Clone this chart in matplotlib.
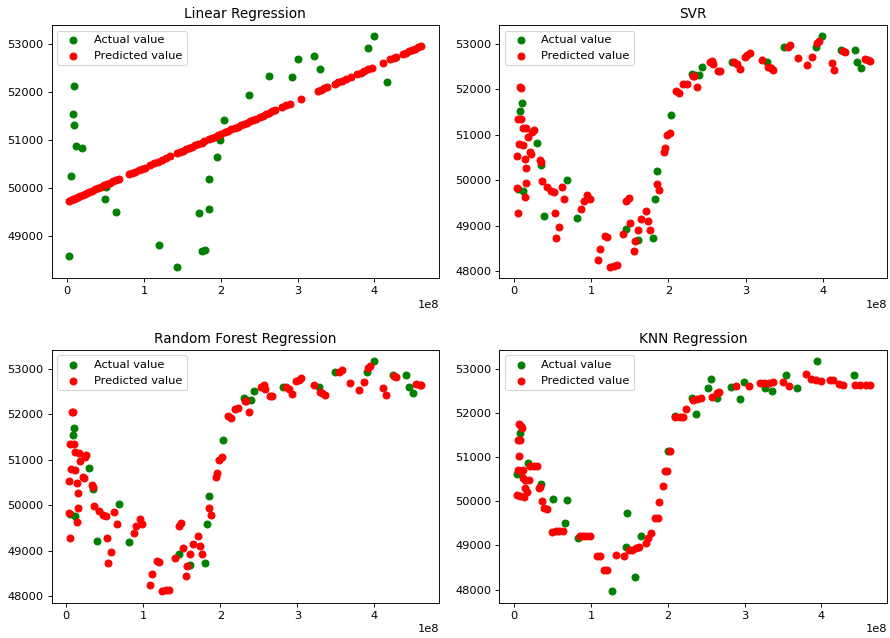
import numpy as np
import matplotlib
matplotlib.use('Agg')
import matplotlib.pyplot as plt
from matplotlib.ticker import MultipleLocator

# x values are in units of 1e8

# --- Linear Regression ---
lr_act_x = [0.027, 0.044, 0.093, 0.080, 0.093, 0.11, 0.19, 0.49, 0.50, 0.64, 1.20, 1.43,
            1.72, 1.75, 1.79, 1.85, 1.85, 1.95, 1.99, 2.04, 2.37, 2.63, 2.93, 3.00,
            3.21, 3.29, 3.92, 3.99, 4.16]
lr_act_y = [48589, 50254, 52122, 51544, 51321, 50889, 50840, 49774, 50020, 49509, 48833, 48373,
            49488, 48707, 48714, 49578, 50185, 50652, 51014, 51418, 51948, 52338, 52310, 52700,
            52749, 52477, 52916, 53160, 52220]
lr_pred_x = [0.03, 0.05, 0.07, 0.09, 0.11, 0.14, 0.17, 0.20, 0.23, 0.26, 0.29, 0.32, 0.36, 0.40,
             0.44, 0.48, 0.52, 0.56, 0.60, 0.64, 0.68,
             0.81, 0.85, 0.89, 0.93, 0.97, 1.01,
             1.08, 1.13, 1.18, 1.24, 1.29, 1.34,
             1.43, 1.47, 1.51, 1.55, 1.59, 1.63, 1.67, 1.71, 1.75, 1.78,
             1.85, 1.88, 1.92, 1.96, 2.00, 2.06, 2.10, 2.14, 2.18, 2.22, 2.26, 2.30, 2.34, 2.38,
             2.42, 2.46, 2.51, 2.55, 2.59, 2.63, 2.67, 2.71,
             2.80, 2.85, 2.90, 3.04,
             3.27, 3.31, 3.35, 3.38,
             3.49, 3.53, 3.58, 3.63, 3.69,
             3.77, 3.82, 3.87, 3.92, 3.97,
             4.11, 4.21, 4.25, 4.28,
             4.37, 4.41, 4.45, 4.49, 4.53, 4.57, 4.61]
lr_pred_y = [49746, 49760, 49774, 49788, 49802, 49823, 49844, 49865, 49886, 49908, 49929, 49950,
             49978, 50006, 50034, 50062, 50090, 50118, 50146, 50174, 50202,
             50294, 50322, 50350, 50378, 50406, 50434,
             50483, 50518, 50553, 50595, 50631, 50666,
             50729, 50757, 50785, 50813, 50841, 50869, 50897, 50925, 50954, 50975,
             51024, 51045, 51073, 51101, 51129, 51171, 51199, 51227, 51255, 51283, 51312, 51340,
             51368, 51396, 51424, 51452, 51487, 51515, 51543, 51571, 51599, 51627,
             51691, 51726, 51761, 51859,
             52021, 52049, 52077, 52098,
             52175, 52203, 52238, 52273, 52315,
             52372, 52407, 52442, 52477, 52512,
             52610, 52680, 52709, 52730,
             52793, 52821, 52849, 52877, 52905, 52933, 52961]

# --- SVR / Random Forest (same picture in both panels) ---
svr_act_x = [0.083, 0.101, 0.053, 0.119, 0.294, 0.351, 0.395, 0.689, 0.821, 1.458, 1.611, 1.796,
             1.831, 1.849, 2.037, 2.305, 2.340, 2.402, 2.437, 2.819, 3.280, 3.491, 3.908, 3.991,
             4.237, 4.413, 4.443, 4.496]
svr_act_y = [51531, 51702, 49810, 49758, 50812, 50344, 49217, 50018, 49180, 48935, 48683, 48735,
             49588, 50203, 51427, 52347, 52318, 52318, 52496, 52592, 52592, 52926, 52926, 53163,
             52866, 52866, 52592, 52466]
svr_pred_x = [0.088, 0.075, 0.053, 0.097, 0.119, 0.162, 0.184, 0.241, 0.259, 0.215, 0.228, 0.066,
              0.119, 0.040, 0.141, 0.154, 0.154, 0.040, 0.141, 0.048, 0.338, 0.347, 0.364, 0.426,
              0.479, 0.514, 0.623, 0.654, 0.536, 0.580, 0.549, 0.909, 0.953, 0.984, 0.874, 1.085,
              1.115, 1.181, 1.207, 1.247, 1.295, 1.335, 1.414, 1.458, 1.488, 1.510, 1.559, 1.568,
              1.611, 1.647, 1.708, 1.739, 1.761, 1.857, 1.875, 1.941, 1.954, 1.985, 2.016, 2.094,
              2.138, 2.191, 2.235, 2.314, 2.336, 2.367, 2.533, 2.564, 2.577, 2.643, 2.665, 2.850,
              2.885, 2.929, 2.986, 3.016, 3.052, 3.214, 3.289, 3.324, 3.354, 3.543, 3.578, 3.684,
              3.798, 3.859, 3.921, 3.947, 4.114, 4.149, 4.259, 4.281, 4.545, 4.588, 4.606]
svr_pred_y = [52036, 52050, 51353, 51353, 51160, 51145, 50960, 51056, 51108, 50626, 50589, 50789,
              50775, 50530, 50478, 50270, 49944, 49825, 49625, 49276, 50441, 50404, 49981, 49862,
              49773, 49751, 49847, 49588, 49276, 48972, 48735, 49551, 49684, 49588, 49380, 48245,
              48497, 48772, 48749, 48104, 48126, 48141, 48831, 49551, 49610, 49068, 48453, 48661,
              48920, 49143, 49328, 49098, 48920, 49929, 49788, 50626, 50700, 50997, 51049, 51961,
              51910, 52110, 52125, 52295, 52295, 52050, 52592, 52629, 52555, 52407, 52392, 52592,
              52555, 52444, 52718, 52755, 52792, 52644, 52481, 52458, 52429, 52926, 52963, 52688,
              52533, 52703, 53022, 53059, 52570, 52429, 52837, 52815, 52666, 52644, 52629]

# --- KNN Regression ---
knn_act_x = [0.035, 0.075, 0.177, 0.355, 0.506, 0.683, 0.656, 0.825, 1.463, 1.450, 1.654, 1.574,
             1.273, 2.004, 2.094, 2.368, 2.315, 2.523, 2.559, 2.639, 2.825, 2.936, 2.989, 3.268,
             3.357, 3.534, 3.681, 3.947, 4.421]
knn_act_y = [50621, 51545, 50864, 50394, 50061, 50030, 49515, 49159, 49742, 48970, 49212, 48280,
             47962, 51129, 51924, 51962, 52326, 52568, 52773, 52341, 52583, 52303, 52697, 52568,
             52485, 52856, 52568, 53167, 52848]
knn_pred_x = [0.067, 0.089, 0.098, 0.053, 0.080, 0.062, 0.044, 0.098, 0.120, 0.035, 0.075, 0.133,
              0.120, 0.142, 0.195, 0.142, 0.164, 0.208, 0.253, 0.297, 0.319, 0.341, 0.364, 0.386,
              0.430, 0.488, 0.541, 0.585, 0.630, 0.851, 0.896, 0.940, 0.984, 1.073, 1.118, 1.171,
              1.206, 1.330, 1.428, 1.494, 1.539, 1.583, 1.627, 1.716, 1.747, 1.783, 1.827, 1.871,
              1.880, 1.938, 1.960, 1.996, 2.027, 2.094, 2.160, 2.204, 2.235, 2.324, 2.381, 2.439,
              2.581, 2.647, 2.670, 2.891, 3.060, 3.202, 3.255, 3.313, 3.370, 3.503, 3.579, 3.800,
              3.867, 3.933, 4.000, 4.111, 4.155, 4.231, 4.288, 4.443, 4.510, 4.576, 4.630]
knn_pred_y = [51735, 51697, 51659, 51379, 51394, 51015, 50712, 50689, 50712, 50144, 50121, 50106,
              50523, 50470, 50485, 50295, 50220, 50803, 50803, 50788, 50295, 50333, 50008, 49841,
              49826, 49311, 49326, 49333, 49333, 49212, 49220, 49212, 49212, 48758, 48758, 48439,
              48439, 48780, 48758, 48894, 48909, 48947, 48970, 49045, 49159, 49273, 49614, 49614,
              49977, 50348, 50674, 50674, 51144, 51909, 51909, 51909, 52091, 52288, 52303, 52326,
              52364, 52439, 52470, 52606, 52606, 52682, 52682, 52682, 52697, 52697, 52606, 52871,
              52758, 52742, 52720, 52742, 52742, 52644, 52636, 52636, 52636, 52636, 52636]

panels = [
    ('Linear Regression', lr_act_x, lr_act_y, lr_pred_x, lr_pred_y),
    ('SVR', svr_act_x, svr_act_y, svr_pred_x, svr_pred_y),
    ('Random Forest Regression', svr_act_x, svr_act_y, svr_pred_x, svr_pred_y),
    ('KNN Regression', knn_act_x, knn_act_y, knn_pred_x, knn_pred_y),
]

fig = plt.figure(figsize=(890 / 82, 638 / 82), dpi=82)
rects = [[0.058, 0.564, 0.435, 0.397], [0.561, 0.564, 0.436, 0.397],
         [0.058, 0.055, 0.435, 0.397], [0.561, 0.055, 0.436, 0.397]]

for rect, (title, ax_x, ax_y, px, py) in zip(rects, panels):
    ax = fig.add_axes(rect)
    ax.scatter(np.array(ax_x) * 1e8, ax_y, color='green', label='Actual value')
    ax.scatter(np.array(px) * 1e8, py, color='red', label='Predicted value')
    ax.set_title(title)
    ax.yaxis.set_major_locator(MultipleLocator(1000))
    ax.legend(loc='upper left')

fig.savefig('out.png', dpi=82)
